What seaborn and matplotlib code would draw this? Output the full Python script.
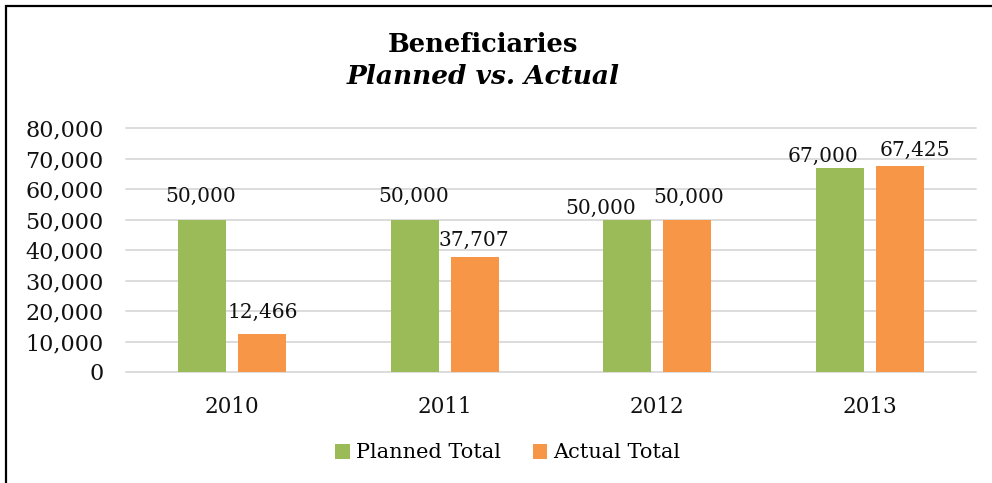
import matplotlib
matplotlib.use("Agg")
import matplotlib.pyplot as plt
import seaborn as sns
import pandas as pd
from matplotlib.patches import Rectangle, Patch
from matplotlib.ticker import FuncFormatter

years = ["2010", "2011", "2012", "2013"]
planned = [50000, 50000, 50000, 67000]
actual = [12466, 37707, 50000, 67425]
series = ["Planned Total", "Actual Total"]
colors = ["#9BBB59", "#F79646"]

df = pd.DataFrame({
    "year": years * 2,
    "value": planned + actual,
    "series": [series[0]] * 4 + [series[1]] * 4,
})

# label offsets in pixels (dx, dy) relative to bar top-centre
label_offsets = {
    0: [(-2, 23), (-1, 23), (-27, 11), (-17, 11)],
    1: [(0, 22), (-1, 17), (1, 22), (15, 16)],
}

sns.set_style("white")
plt.rcParams["font.family"] = ["DejaVu Serif"]
plt.rcParams["text.color"] = "black"

fig = plt.figure(figsize=(9.92, 4.83), dpi=100)
ax = fig.add_axes([126 / 992, 1 - 372 / 483, 850 / 992, 244 / 483])

sns.barplot(data=df, x="year", y="value", hue="series", palette=colors,
            width=0.565, gap=0.2, ax=ax, legend=False, saturation=1,
            linewidth=0, edgecolor="none")

ax.set_ylim(0, 80000)
ax.set_yticks(range(0, 80001, 10000))
ax.yaxis.set_major_formatter(FuncFormatter(lambda v, p: f"{int(v):,}"))
ax.grid(axis="y", color="#d9d9d9", linewidth=1.3)
for gl in ax.get_ygridlines():
    gl.set_clip_on(False)
ax.set_axisbelow(True)
for s in ax.spines.values():
    s.set_visible(False)
ax.set_xlabel("")
ax.set_ylabel("")
ax.tick_params(axis="y", labelsize=16, pad=16, length=0, labelcolor="#111111")
ax.tick_params(axis="x", labelsize=15.5, pad=17, length=0, labelcolor="#111111")

for ci, cont in enumerate(ax.containers):
    for bi, bar in enumerate(cont):
        h = bar.get_height()
        x = bar.get_x() + bar.get_width() / 2
        dx, dy = label_offsets[ci][bi]
        ax.annotate(f"{int(h):,}", (x, h), xytext=(dx, dy),
                    textcoords="offset pixels", ha="center", va="center",
                    fontsize=14.5, color="#111111")

handles = [Patch(facecolor=c, edgecolor="none") for c in colors]
fig.legend(handles, series, loc="center", bbox_to_anchor=(508 / 992, 1 - 453 / 483),
           ncol=2, frameon=False, fontsize=15, handlelength=0.7,
           handleheight=0.7, handletextpad=0.3, columnspacing=1.5)

fig.text(483 / 992, 1 - 45 / 483, "Beneficiaries", ha="center", va="center",
         fontsize=18.5, fontweight="bold", color="black")
fig.text(483 / 992, 1 - 76 / 483, "Planned vs. Actual", ha="center", va="center",
         fontsize=19, fontweight="bold", fontstyle="italic", color="black")

fig.add_artist(Rectangle((5.5 / 992, -0.1), 1.2, 1 - 5.5 / 483 + 0.1,
                         transform=fig.transFigure, fill=False,
                         edgecolor="black", linewidth=1.6, clip_on=False))

fig.savefig("out.png", dpi=100)
